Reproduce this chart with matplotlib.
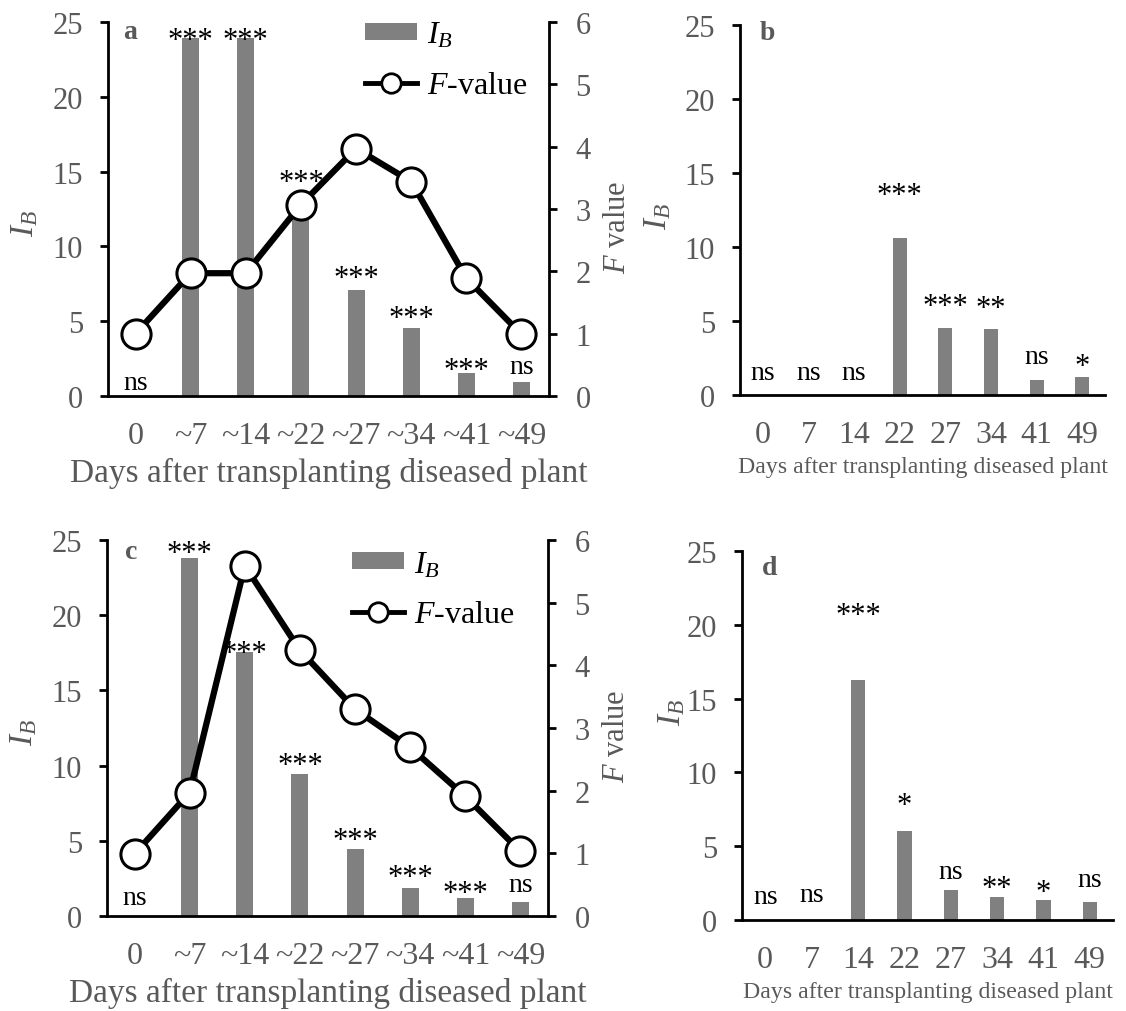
#%% Imports

import matplotlib
matplotlib.use('Agg')
import matplotlib.pyplot as plt
from matplotlib.patches import Patch
from matplotlib.lines import Line2D

#%% Data

days_cum = ['0', '~7', '~14', '~22', '~27', '~34', '~41', '~49']
days = ['0', '7', '14', '22', '27', '34', '41', '49']

# panel a (cumulative) : index of dispersion + F value
ib_a = [0, 23.9, 23.9, 13.2, 7.06, 4.55, 1.52, 0.94]
f_a = [1.0, 1.97, 1.97, 3.07, 3.97, 3.44, 1.89, 0.99]
sig_a = ['ns', '***', '***', '***', '***', '***', '***', 'ns']

# panel b (per date)
ib_b = [0, 0, 0, 10.6, 4.53, 4.46, 1.01, 1.19]
sig_b = ['ns', 'ns', 'ns', '***', '***', '**', 'ns', '*']

# panel c (cumulative)
ib_c = [0, 23.8, 17.55, 9.42, 4.48, 1.88, 1.22, 0.95]
f_c = [0.99, 1.97, 5.59, 4.24, 3.30, 2.69, 1.91, 1.03]
sig_c = ['ns', '***', '***', '***', '***', '***', '***', 'ns']

# panel d (per date)
ib_d = [0, 0, 16.27, 6.0, 2.01, 1.56, 1.33, 1.24]
sig_d = ['ns', 'ns', '***', '*', 'ns', '**', '*', 'ns']

#%% Style

plt.rcParams['font.family'] = ['Liberation Serif', 'DejaVu Serif']
plt.rcParams['mathtext.fontset'] = 'custom'
plt.rcParams['mathtext.rm'] = 'Liberation Serif'
plt.rcParams['mathtext.it'] = 'Liberation Serif:italic'

grey_txt = '#595959'
grey_bar = '#808080'
lw_ax = 2.0

# label gaps above bars (data units, glyph centre)
gap_a = [0.9, 0.5, 0.5, 1.7, 1.44, 1.25, 0.8, 1.06]
gap_b = [1.5, 1.5, 1.5, 3.5, 2.1, 2.0, 1.6, 1.4]
gap_c = [1.2, 0.9, 0.55, 1.2, 1.2, 1.3, 0.9, 1.15]
gap_d = [1.6, 1.7, 5.0, 2.4, 1.3, 1.2, 1.2, 1.5]

fig = plt.figure(figsize=(11.26, 10.12), dpi=100)

def style_left(ax, xt, xfs, xlab_fs):
    x = range(len(xt))
    ax.set_xlim(-0.5, len(xt) - 0.5)
    ax.set_ylim(0, 25)
    ax.set_yticks([0, 5, 10, 15, 20, 25])
    ax.set_xticks(list(x))
    ax.set_xticklabels(xt)
    for s in ['top', 'right']:
        ax.spines[s].set_visible(False)
    for s in ['left', 'bottom']:
        ax.spines[s].set_linewidth(lw_ax)
    ax.tick_params(axis='y', direction='out', length=6, width=lw_ax,
                   labelsize=22, labelcolor=grey_txt, pad=12)
    ax.tick_params(axis='x', length=0, labelsize=xfs, labelcolor=grey_txt, pad=18)
    ax.set_xlabel('Days after transplanting diseased plant', fontsize=xlab_fs,
                  color=grey_txt, labelpad=5)

def draw_bars(ax, vals, sig, gaps):
    x = range(len(vals))
    ax.bar(x, vals, width=0.31, color=grey_bar, zorder=2)
    for i, (v, s, g) in enumerate(zip(vals, sig, gaps)):
        fs = 22 if '*' in s else 20
        dy = -0.31 * fs if '*' in s else 0
        ax.annotate(s, (i, v + g), xytext=(0, dy), textcoords='offset points',
                    ha='center', va='center', fontsize=fs, color='black', zorder=5)

def draw_f(ax, fv, ylab_xy):
    ax2 = ax.twinx()
    ax2.set_ylim(0, 6)
    ax2.set_yticks(range(7))
    for s in ['top', 'left', 'bottom']:
        ax2.spines[s].set_visible(False)
    ax2.spines['right'].set_linewidth(lw_ax)
    ax2.tick_params(axis='y', direction='out', length=6, width=lw_ax,
                    labelsize=22, labelcolor=grey_txt, pad=13)
    ax2.plot(range(len(fv)), fv, color='black', lw=4.5, marker='o', ms=21,
             mfc='white', mec='black', mew=2.2, zorder=4)
    ax2.set_ylabel('$F$ value', fontsize=22, color=grey_txt)
    ax2.yaxis.set_label_coords(*ylab_xy)
    return ax2

def add_legend(ax, anchor):
    handles = [Patch(facecolor=grey_bar, edgecolor='none'),
               Line2D([], [], color='black', lw=3.5, marker='o', ms=14,
                      mfc='white', mec='black', mew=2)]
    ax.legend(handles, ['$I_B$', '$F$-value'], loc='upper left',
              bbox_to_anchor=anchor, bbox_transform=fig.transFigure,
              frameon=False, fontsize=23, handlelength=1.63, handleheight=0.47,
              handletextpad=0.31, labelspacing=0.66, borderpad=0, borderaxespad=0,
              labelcolor='black')

#%% Panel a

ax_a = fig.add_axes([0.0959, 0.6077, 0.3917, 0.3696])
style_left(ax_a, days_cum, 23, 24)
draw_bars(ax_a, ib_a, sig_a, gap_a)
ax_a.set_ylabel('$I_B$', fontsize=24, color=grey_txt)
ax_a.yaxis.set_label_coords(-0.154, 0.465)
ax_a2 = draw_f(ax_a, f_a, (1.122, 0.455))
add_legend(ax_a2, (0.324, 0.979))
ax_a.text(0.05, 0.975, 'a', transform=ax_a.transAxes, fontsize=20,
          fontweight='bold', color=grey_txt, ha='center', va='center')

#%% Panel b

ax_b = fig.add_axes([0.6572, 0.6087, 0.3242, 0.3656])
style_left(ax_b, days, 23, 17.2)
draw_bars(ax_b, ib_b, sig_b, gap_b)
ax_b.set_ylabel('$I_B$', fontsize=24, color=grey_txt)
ax_b.yaxis.set_label_coords(-0.184, 0.484)
ax_b.text(0.074, 0.98, 'b', transform=ax_b.transAxes, fontsize=20,
          fontweight='bold', color=grey_txt, ha='center', va='center')

#%% Panel c

ax_c = fig.add_axes([0.0950, 0.0939, 0.3917, 0.3715])
style_left(ax_c, days_cum, 23, 24)
draw_bars(ax_c, ib_c, sig_c, gap_c)
ax_c.set_ylabel('$I_B$', fontsize=24, color=grey_txt)
ax_c.yaxis.set_label_coords(-0.154, 0.49)
ax_c2 = draw_f(ax_c, f_c, (1.122, 0.48))
add_legend(ax_c2, (0.3126, 0.456))
ax_c.text(0.055, 0.97, 'c', transform=ax_c.transAxes, fontsize=20,
          fontweight='bold', color=grey_txt, ha='center', va='center')

#%% Panel d

ax_d = fig.add_axes([0.6590, 0.0899, 0.3295, 0.3646])
style_left(ax_d, days, 23, 17.2)
draw_bars(ax_d, ib_d, sig_d, gap_d)
ax_d.set_ylabel('$I_B$', fontsize=24, color=grey_txt)
ax_d.yaxis.set_label_coords(-0.148, 0.564)
ax_d.text(0.075, 0.955, 'd', transform=ax_d.transAxes, fontsize=20,
          fontweight='bold', color=grey_txt, ha='center', va='center')

fig.savefig('out.png', dpi=100)
